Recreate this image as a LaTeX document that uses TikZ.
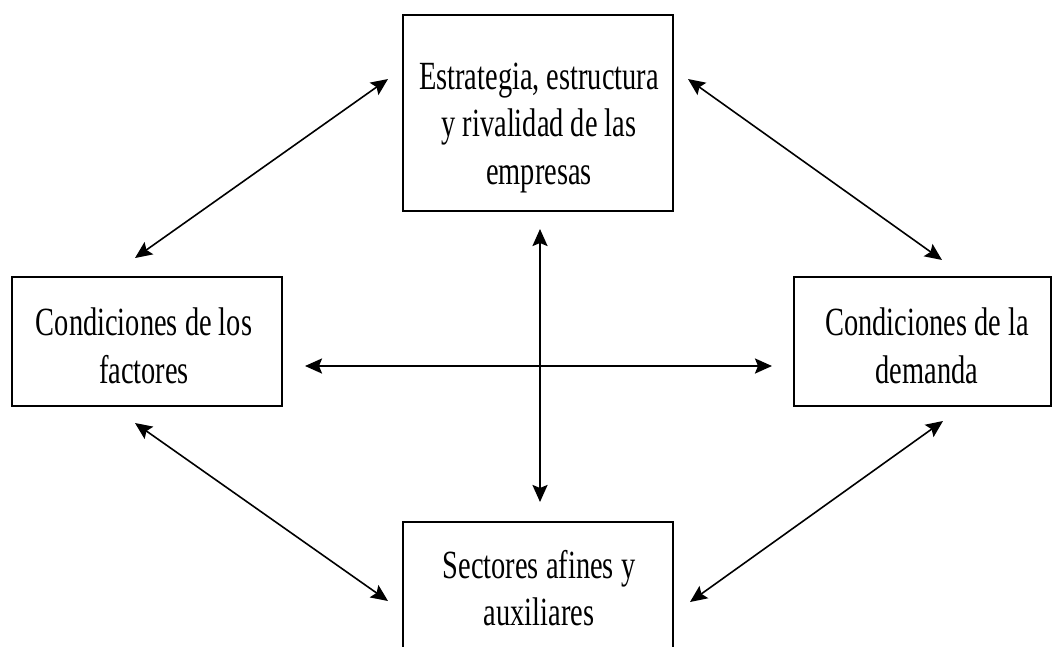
\documentclass[tikz,border=0pt]{standalone}
\usepackage{fontspec}
\setmainfont[FakeStretch=0.71]{Liberation Serif}
\usetikzlibrary{arrows.meta}
\begin{document}
\begin{tikzpicture}[x=1pt,y=-1pt,
  boxst/.style={draw=black, line width=1.3pt, fill=none, inner sep=0pt, outer sep=0pt},
  txt/.style={align=center, inner sep=0pt, outer sep=0pt, font=\fontsize{40}{47.5}\selectfont},
  tip/.style={},
  thinarrow/.style={line width=1.6pt, {Stealth[length=17pt,width=15pt,inset=3pt]}-{Stealth[length=17pt,width=15pt,inset=3pt]}},
  thickarrow/.style={line width=2.3pt, {Stealth[length=17pt,width=15pt,inset=3pt]}-{Stealth[length=17pt,width=15pt,inset=3pt]}}]
\useasboundingbox (0,0) rectangle (1054,646);
\clip (0,0) rectangle (1054,646);
% boxes
\node[boxst, minimum width=270pt, minimum height=196pt] (topbox) at (538,113) {};
\node[boxst, minimum width=270pt, minimum height=129pt] (leftbox) at (147,341.5) {};
\node[boxst, minimum width=257pt, minimum height=129pt] (rightbox) at (922.5,341.5) {};
\node[boxst, minimum width=270pt, minimum height=160pt] (botbox) at (538,602) {};
% texts
\node[txt] (toptxt) at (539,128) {Estrategia, estructura\\y rivalidad de las\\empresas};
\node[txt] (lefttxt) at (144,346) {Condiciones de los\\factores};
\node[txt] (righttxt) at (927,346) {Condiciones de la\\demanda};
\node[txt] (bottxt) at (539,588) {Sectores afines y\\auxiliares};
% arrow end points
\coordinate (tlA) at (388,79);
\coordinate (tlB) at (135,258);
\coordinate (trA) at (688,79);
\coordinate (trB) at (942,260);
\coordinate (lbA) at (135,423);
\coordinate (lbB) at (388,601);
\coordinate (rbA) at (943,421);
\coordinate (rbB) at (690,602);
\coordinate (hL) at (305,366);
\coordinate (hR) at (772,366);
\coordinate (vT) at (540,229);
\coordinate (vB) at (540,502);
% arrows
\draw[thinarrow] (tlA) -- (tlB);
\draw[thinarrow] (trA) -- (trB);
\draw[thinarrow] (lbA) -- (lbB);
\draw[thinarrow] (rbA) -- (rbB);
\draw[thickarrow] (hL) -- (hR);
\draw[thickarrow] (vT) -- (vB);
\end{tikzpicture}
\end{document}
